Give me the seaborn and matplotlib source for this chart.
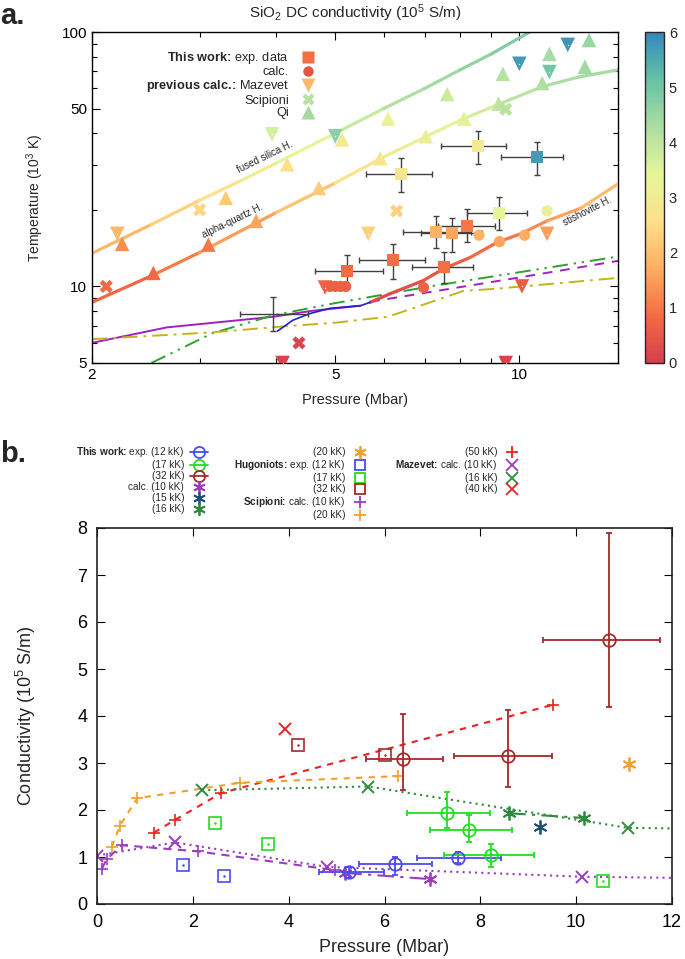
import numpy as np
import pandas as pd
import matplotlib
matplotlib.use("Agg")
import matplotlib.pyplot as plt
import matplotlib.ticker as mticker
from matplotlib.colors import LinearSegmentedColormap, Normalize
from matplotlib.collections import LineCollection
from matplotlib.lines import Line2D
from matplotlib.cm import ScalarMappable
import seaborn as sns

sns.set_style("ticks")
plt.rcParams["font.family"] = ["Liberation Sans", "DejaVu Sans"]
plt.rcParams["mathtext.fontset"] = "custom"
plt.rcParams["mathtext.rm"] = "Liberation Sans"
plt.rcParams["mathtext.it"] = "Liberation Sans:italic"
plt.rcParams["mathtext.bf"] = "Liberation Sans:bold"

# ======================= panel a data (P in Mbar, T in kK, sigma in 1e5 S/m) ==========
exp_p = [5.23, 6.22, 7.52, 7.30, 7.77, 8.22, 9.25, 10.7, 8.56, 6.40]
exp_p_lo = [4.64, 5.47, 6.68, 6.45, 6.90, 7.35, 8.22, 9.33, 7.44, 5.62]
exp_p_hi = [5.99, 7.00, 8.40, 8.35, 8.70, 9.12, 10.3, 11.8, 9.50, 7.20]
exp_t = [11.5, 12.7, 11.9, 16.4, 16.2, 17.3, 19.4, 32.2, 35.5, 27.6]
exp_t_lo = [9.9, 10.7, 10.3, 14.1, 13.7, 14.9, 16.7, 27.4, 30.2, 23.5]
exp_t_hi = [13.3, 14.7, 13.6, 18.9, 18.6, 20.2, 22.5, 36.8, 41.0, 31.9]
exp_sig = [0.85, 0.9, 0.9, 1.8, 1.6, 1.0, 3.4, 5.7, 3.0, 2.8]
# error bar drawn without a coloured point
bare_p, bare_p_lo, bare_p_hi = [3.96], [3.49], [4.51]
bare_t, bare_t_lo, bare_t_hi = [7.8], [6.67], [9.07]

calc_p = [8.59, 9.28, 10.2, 11.1, 6.97, 4.90, 5.00, 5.10, 5.20]
calc_t = [15.9, 15.0, 15.9, 19.8, 9.9, 10.0, 10.0, 10.0, 10.0]
calc_sig = [1.8, 1.6, 1.7, 3.2, 0.7, 0.65, 0.65, 0.65, 0.65]

maz_p = [2.2, 4.81, 5.66, 11.1, 10.1, 9.5, 4.1, 3.94, 5.0, 10.0, 11.2, 12.0]
maz_t = [16.1, 9.9, 16.1, 16.1, 10.0, 5.0, 5.0, 39.6, 38.9, 75.0, 69.6, 89.0]
maz_sig = [1.9, 0.7, 2.3, 1.5, 0.6, 0.1, 0.1, 3.7, 4.7, 5.7, 5.0, 5.8]

sci_p = [2.11, 3.0, 4.36, 6.3, 9.5]
sci_t = [10.0, 20.0, 6.0, 19.8, 49.7]
sci_sig = [0.8, 2.4, 0.15, 2.3, 4.1]

qi_p = [2.24, 2.52, 3.1, 3.31, 3.71, 4.7, 4.17, 5.13, 6.1, 5.92, 7.03, 8.12,
        7.62, 9.25, 9.4, 10.9, 11.2, 12.8, 13.0]
qi_t = [14.7, 11.3, 14.6, 22.3, 18.1, 24.4, 30.2, 37.8, 45.7, 31.9, 38.9, 45.7,
        57.0, 52.3, 68.5, 63.0, 82.0, 73.0, 93.0]
qi_sig = [1.3, 0.8, 1.0, 2.2, 1.6, 2.2, 2.6, 2.9, 3.3, 2.8, 3.2, 3.5,
          3.8, 4.0, 4.1, 4.2, 4.3, 4.4, 4.5]

fs_p = [2.0, 2.5, 3.0, 3.5, 4.0, 5.0, 6.0, 7.0, 8.0, 9.0, 10.4]
fs_t = [13.5, 17.5, 21.8, 26.0, 30.5, 40.0, 50.0, 60.0, 71.0, 82.0, 100.0]
fs_sig = [1.7, 2.1, 2.5, 2.8, 3.2, 3.7, 4.0, 4.3, 4.5, 4.7, 4.9]

aq_p = [2.0, 2.5, 3.0, 4.0, 5.0, 6.0, 7.0, 8.0, 9.25, 10.9, 12.5, 14.5]
aq_t = [8.66, 11.0, 13.6, 19.5, 25.5, 32.3, 38.6, 45.0, 52.0, 61.0, 66.5, 71.0]
aq_sig = [0.6, 0.9, 1.2, 1.8, 2.4, 2.9, 3.2, 3.5, 3.9, 4.2, 4.3, 4.4]

st_p = [5.70, 6.22, 6.97, 7.5, 8.31, 9.2, 10.05, 11.1, 12.6, 14.5]
st_t = [8.66, 9.47, 10.55, 11.7, 13.0, 14.9, 16.1, 18.1, 20.3, 25.3]
st_sig = [0.2, 0.3, 0.4, 0.5, 0.7, 0.9, 1.1, 1.4, 1.7, 2.2]

blue_p = [4.02, 4.26, 4.55, 4.9, 5.5, 5.7]
blue_t = [6.67, 7.36, 7.83, 8.2, 8.4, 8.66]
purple_p = [2.0, 2.65, 3.96, 4.55, 5.5]
purple_t = [6.0, 6.9, 7.6, 8.0, 8.4]
purple_dash_p = [5.7, 9.9, 14.5]
purple_dash_t = [8.7, 10.8, 12.6]
green_p = [2.5, 3.15, 3.96, 5.0, 7.14, 14.5]
green_t = [5.0, 6.55, 7.7, 8.6, 10.0, 13.1]
olive_p = [2.0, 3.15, 4.1, 5.0, 6.1, 8.1, 9.2, 14.5]
olive_t = [6.2, 6.6, 6.96, 7.2, 7.6, 9.6, 9.8, 10.8]

# ======================= panel b data (P in Mbar, sigma in 1e5 S/m) ====================
tw12_p = [5.26, 6.22, 7.54]; tw12_plo = [4.63, 5.47, 6.68]; tw12_phi = [5.99, 7.00, 8.43]
tw12_s = [0.68, 0.86, 0.97]; tw12_slo = [0.55, 0.62, 0.87]; tw12_shi = [0.79, 1.00, 1.10]
tw17_p = [7.31, 7.77, 8.23]; tw17_plo = [6.47, 6.95, 7.24]; tw17_phi = [8.20, 8.66, 9.12]
tw17_s = [1.94, 1.58, 1.04]; tw17_slo = [1.62, 1.32, 0.79]; tw17_shi = [2.38, 1.89, 1.28]
tw32_p = [6.39, 8.58, 10.69]; tw32_plo = [5.62, 7.45, 9.31]; tw32_phi = [7.22, 9.50, 11.75]
tw32_s = [3.08, 3.15, 5.62]; tw32_slo = [2.43, 2.49, 4.19]; tw32_shi = [4.04, 4.13, 7.90]

twc10_p, twc10_s = [5.18, 6.95], [0.66, 0.53]
twc15_p, twc15_s = [9.25], [1.64]
twc16_p, twc16_s = [8.6, 10.17], [1.93, 1.83]
twc20_p, twc20_s = [11.1], [2.97]

hug12_p, hug12_s = [1.8, 2.65], [0.83, 0.60]
hug17_p, hug17_s = [2.46, 3.57, 10.55], [1.73, 1.28, 0.50]
hug32_p, hug32_s = [4.2, 6.01], [3.38, 3.18]

sci10_p, sci10_s = [0.1, 0.2, 0.52, 2.1, 4.97], [0.75, 0.95, 1.25, 1.12, 0.72]
sci20_p, sci20_s = [0.31, 0.48, 0.84, 2.99, 6.28], [1.22, 1.67, 2.25, 2.58, 2.72]

maz50_p, maz50_s = [1.19, 1.63, 2.59, 9.52], [1.52, 1.79, 2.36, 4.24]
maz10_p, maz10_s = [0.0, 1.63, 4.8, 10.13, 12.6], [1.03, 1.31, 0.79, 0.58, 0.55]
maz16_p, maz16_s = [2.19, 5.66, 11.08, 12.6], [2.42, 2.50, 1.62, 1.60]
maz40_p, maz40_s = [3.92], [3.72]

# ======================= figure ========================================================
W, H = 685, 959
fig = plt.figure(figsize=(W / 100, H / 100), dpi=100)

def fx(px):
    return px / W

def fy(py):
    return 1 - py / H

cmap = LinearSegmentedColormap.from_list(
    "spectral8", ["#D53E4F", "#F46D43", "#FDAE61", "#FEE08B",
                  "#E6F598", "#ABDDA4", "#66C2A5", "#3288BD"])
norm = Normalize(0, 6)

# ---------------- panel a --------------------------------------------------------------
ax = fig.add_axes([fx(92), fy(363), fx(618 - 92), (363 - 32) / H])
ax.set_xscale("log")
ax.set_yscale("log")
ax.set_xlim(2, 14.5)
ax.set_ylim(5, 100)


def grad_line(p, t, sig, lw=2.3, z=2):
    pts = np.column_stack([p, t])
    segs = np.stack([pts[:-1], pts[1:]], axis=1)
    s = np.asarray(sig)
    lc = LineCollection(segs, cmap=cmap, norm=norm, linewidths=lw, zorder=z,
                        capstyle="round")
    lc.set_array((s[:-1] + s[1:]) / 2)
    ax.add_collection(lc)


grad_line(fs_p, fs_t, fs_sig)
grad_line(aq_p, aq_t, aq_sig)
grad_line(st_p, st_t, st_sig, z=3)

sns.lineplot(x=purple_p, y=purple_t, color="#a020c0", lw=1.4, ax=ax,
             sort=False, estimator=None, zorder=2)
sns.lineplot(x=blue_p, y=blue_t, color="#2020d0", lw=1.2, ax=ax,
             sort=False, estimator=None, zorder=3)
sns.lineplot(x=purple_dash_p, y=purple_dash_t, color="#a020c0", lw=1.4, ax=ax,
             sort=False, estimator=None, dashes=(5, 4), zorder=2)
sns.lineplot(x=green_p, y=green_t, color="#30a030", lw=1.4, ax=ax,
             sort=False, estimator=None, dashes=(8, 3, 1.2, 3, 1.2, 3), zorder=2)
sns.lineplot(x=olive_p, y=olive_t, color="#c4b41c", lw=1.4, ax=ax,
             sort=False, estimator=None, dashes=(8, 3, 1.5, 3), zorder=2)

ax.errorbar(exp_p, exp_t,
            xerr=[np.subtract(exp_p, exp_p_lo), np.subtract(exp_p_hi, exp_p)],
            yerr=[np.subtract(exp_t, exp_t_lo), np.subtract(exp_t_hi, exp_t)],
            fmt="none", ecolor="#404040", elinewidth=1, capsize=2.5, zorder=4)
ax.errorbar(bare_p, bare_t,
            xerr=[np.subtract(bare_p, bare_p_lo), np.subtract(bare_p_hi, bare_p)],
            yerr=[np.subtract(bare_t, bare_t_lo), np.subtract(bare_t_hi, bare_t)],
            fmt="none", ecolor="#404040", elinewidth=1, capsize=2.5, zorder=4)

common = dict(hue_norm=norm, palette=cmap, legend=False, ax=ax, linewidth=0, zorder=5)
sns.scatterplot(x=qi_p, y=qi_t, hue=qi_sig, marker="^", s=110, **common)
sns.scatterplot(x=sci_p, y=sci_t, hue=sci_sig, marker="X", s=90, **common)
sns.scatterplot(x=maz_p, y=maz_t, hue=maz_sig, marker="v", s=110, **common)
sns.scatterplot(x=maz_p, y=maz_t, color="white", marker=".", s=4, legend=False,
                ax=ax, linewidth=0, zorder=6)
sns.scatterplot(x=calc_p, y=calc_t, hue=calc_sig, marker="o", s=65, **common)
sns.scatterplot(x=exp_p, y=exp_t, hue=exp_sig, marker="s", s=75, **common)

ax.text(3.84, 32.3, "fused silica H.", rotation=26, fontsize=7,
        ha="center", va="center", rotation_mode="anchor")
ax.text(3.39, 18.0, "alpha-quartz H.", rotation=26, fontsize=7,
        ha="center", va="center", rotation_mode="anchor")
ax.text(12.9, 19.8, "stishovite H.", rotation=27, fontsize=7,
        ha="center", va="center", rotation_mode="anchor")

ax.xaxis.set_major_locator(mticker.FixedLocator([2, 5, 10]))
ax.xaxis.set_minor_locator(mticker.FixedLocator([3, 4, 6, 7, 8, 9]))
ax.yaxis.set_major_locator(mticker.FixedLocator([5, 10, 50, 100]))
ax.yaxis.set_minor_locator(mticker.FixedLocator([6, 7, 8, 9, 20, 30, 40, 60, 70, 80, 90]))
ax.xaxis.set_major_formatter(mticker.FormatStrFormatter("%g"))
ax.yaxis.set_major_formatter(mticker.FormatStrFormatter("%g"))
ax.xaxis.set_minor_formatter(mticker.NullFormatter())
ax.yaxis.set_minor_formatter(mticker.NullFormatter())
ax.tick_params(which="both", direction="in", top=True, right=True, labelsize=11,
               width=0.8, colors="black")
ax.tick_params(which="major", length=6)
ax.tick_params(which="minor", length=3.5)
for sp in ax.spines.values():
    sp.set_linewidth(1)
    sp.set_color("black")
ax.set_xlabel("Pressure (Mbar)", fontsize=10.5, labelpad=8)
ax.set_ylabel("Temperature (10$^3$ K)", fontsize=10, labelpad=11)

leg_a = [
    (Line2D([], [], ls="", marker="s", ms=8, mfc="#f46d43", mec="none"),
     r"$\bf{This\ work\colon}$ exp. data"),
    (Line2D([], [], ls="", marker="o", ms=7.5, mfc="#e8533f", mec="none"), "calc."),
    (Line2D([], [], ls="", marker="v", ms=10, mfc="#fdb86a", mec="none"),
     r"$\bf{previous\ calc.\!\colon}$ Mazevet"),
    (Line2D([], [], ls="", marker="X", ms=9, mfc="#b8e2a2", mec="none"), "Scipioni"),
    (Line2D([], [], ls="", marker="^", ms=10, mfc="#a6d99e", mec="none"), "Qi"),
]
ax.legend([h for h, _ in leg_a], [l for _, l in leg_a], loc="upper left",
          bbox_to_anchor=(0.09, 0.965), markerfirst=False, frameon=False,
          fontsize=9.2, handlelength=1.2, handletextpad=0.9, labelspacing=0.02,
          borderpad=0)

cax = fig.add_axes([fx(645), fy(363), fx(19), (363 - 32) / H])
cb = fig.colorbar(ScalarMappable(norm=norm, cmap=cmap), cax=cax)
cb.set_ticks(range(7))
cax.tick_params(direction="in", left=True, right=True, length=5, width=0.8,
                labelsize=10.5)
cb.outline.set_linewidth(1)

fig.text(fx(355), fy(13), "SiO$_2$ DC conductivity (10$^5$ S/m)", ha="center",
         va="center", fontsize=11)
fig.text(fx(0), fy(2), "a.", fontsize=21, fontweight="bold", ha="left", va="top")

# ---------------- panel b --------------------------------------------------------------
bx = fig.add_axes([fx(97), fy(904), fx(672 - 97), (904 - 528) / H])
bx.set_xlim(0, 12)
bx.set_ylim(0, 8)

c12, c17, c32 = "#4b4bef", "#22dd22", "#a52a2a"
cpur, cteal, cgr16 = "#9b3dbd", "#1f4e78", "#2e8b3e"
corg, cred = "#f0a030", "#f02020"
ast = (6, 2, 0)
line_kw = dict(ax=bx, sort=False, estimator=None, lw=1.5)

sns.lineplot(x=maz50_p, y=maz50_s, color=cred, dashes=(3, 3), marker="+", ms=9,
             mew=1.2, mec=cred, **line_kw)
sns.lineplot(x=sci20_p, y=sci20_s, color=corg, dashes=(3, 3), marker="+", ms=9,
             mew=1.2, mec=corg, **line_kw)
sns.lineplot(x=sci10_p, y=sci10_s, color=cpur, dashes=(4, 3), marker="+", ms=9,
             mew=1.2, mec=cpur, **line_kw)
sns.lineplot(x=maz16_p, y=maz16_s, color=cgr16, dashes=(1, 2), marker="x", ms=9,
             mew=1.4, mec=cgr16, **line_kw)
sns.lineplot(x=maz10_p, y=maz10_s, color=cpur, dashes=(1, 2), marker="x", ms=9,
             mew=1.4, mec=cpur, **line_kw)
sns.lineplot(x=maz40_p, y=maz40_s, color=cred, ls="", marker="x", ms=9, mew=1.4,
             mec=cred, **line_kw)
sns.lineplot(x=twc10_p, y=twc10_s, color=cpur, dashes=(8, 3, 1.5, 3), marker=ast,
             ms=10, mew=1.3, mec=cpur, **line_kw)
sns.lineplot(x=twc16_p, y=twc16_s, color=cgr16, dashes=(8, 3, 1.5, 3), marker=ast,
             ms=10, mew=1.3, mec=cgr16, **line_kw)
sns.lineplot(x=twc15_p, y=twc15_s, color=cteal, ls="", marker=ast, ms=10, mew=1.3,
             mec=cteal, **line_kw)
sns.lineplot(x=twc20_p, y=twc20_s, color=corg, ls="", marker=ast, ms=10, mew=1.3,
             mec=corg, **line_kw)

for hp, hs, col in [(hug12_p, hug12_s, c12), (hug17_p, hug17_s, c17),
                    (hug32_p, hug32_s, c32)]:
    sns.lineplot(x=hp, y=hs, color=col, ls="", marker="s", ms=8, mfc="none",
                 mec=col, mew=1.2, **line_kw)
    sns.lineplot(x=hp, y=hs, color=col, ls="", marker=".", ms=2, mec=col, **line_kw)

for p, plo, phi, s, slo, shi, col in [
        (tw12_p, tw12_plo, tw12_phi, tw12_s, tw12_slo, tw12_shi, c12),
        (tw17_p, tw17_plo, tw17_phi, tw17_s, tw17_slo, tw17_shi, c17),
        (tw32_p, tw32_plo, tw32_phi, tw32_s, tw32_slo, tw32_shi, c32)]:
    bx.errorbar(p, s, xerr=[np.subtract(p, plo), np.subtract(phi, p)],
                yerr=[np.subtract(s, slo), np.subtract(shi, s)],
                fmt="o", ms=9, mfc="none", mec=col, mew=1.3, color=col,
                elinewidth=1.3, capsize=2, capthick=1.3, zorder=5)

bx.xaxis.set_major_locator(mticker.MultipleLocator(2))
bx.yaxis.set_major_locator(mticker.MultipleLocator(1))
bx.tick_params(direction="in", top=True, right=True, length=6, width=0.8,
               labelsize=13, colors="black", pad=7)
for sp in bx.spines.values():
    sp.set_linewidth(1.2)
    sp.set_color("#222222")
bx.set_xlabel("Pressure (Mbar)", fontsize=13, labelpad=6)
bx.set_ylabel("Conductivity (10$^5$ S/m)", fontsize=13, labelpad=28)

fig.text(fx(0), fy(440), "b.", fontsize=21, fontweight="bold", ha="left", va="top")


def eb_handle(col):
    return Line2D([], [], color=col, lw=1.3, marker="o", ms=8, mfc="none", mec=col,
                  mew=1.3)


def mk_handle(col, m, **kw):
    return Line2D([], [], color=col, ls="", marker=m, ms=kw.pop("ms", 9),
                  mew=kw.pop("mew", 1.3), **kw)


blank = Line2D([], [], ls="", marker="")
leg_b = [
    (eb_handle(c12), r"$\bf{This\ work\colon}$ exp. (12 kK)"),
    (eb_handle(c17), "(17 kK)"),
    (eb_handle(c32), "(32 kK)"),
    (mk_handle(cpur, ast), "calc. (10 kK)"),
    (mk_handle(cteal, ast), "(15 kK)"),
    (mk_handle(cgr16, ast), "(16 kK)"),
    (mk_handle(corg, ast), "(20 kK)"),
    (mk_handle(c12, "s", mfc="none", ms=7), r"$\bf{Hugoniots\colon}$ exp. (12 kK)"),
    (mk_handle(c17, "s", mfc="none", ms=7), "(17 kK)"),
    (mk_handle(c32, "s", mfc="none", ms=7), "(32 kK)"),
    (mk_handle(cpur, "+"), r"$\bf{Scipioni\colon}$ calc. (10 kK)"),
    (mk_handle(corg, "+"), "(20 kK)"),
    (mk_handle(cred, "+"), "(50 kK)"),
    (mk_handle(cpur, "x"), r"$\bf{Mazevet\colon}$ calc. (10 kK)"),
    (mk_handle(cgr16, "x"), "(16 kK)"),
    (mk_handle(cred, "x"), "(40 kK)"),
    (blank, " "),
    (blank, " "),
]
fig.legend([h for h, _ in leg_b], [l for _, l in leg_b], ncol=3, loc="upper left",
           bbox_to_anchor=(fx(71), fy(440)), markerfirst=False, frameon=False,
           fontsize=7.2, handlelength=1.8, handletextpad=0.6, labelspacing=0.1,
           columnspacing=2.6, borderpad=0)

fig.savefig("out.png", dpi=100)
